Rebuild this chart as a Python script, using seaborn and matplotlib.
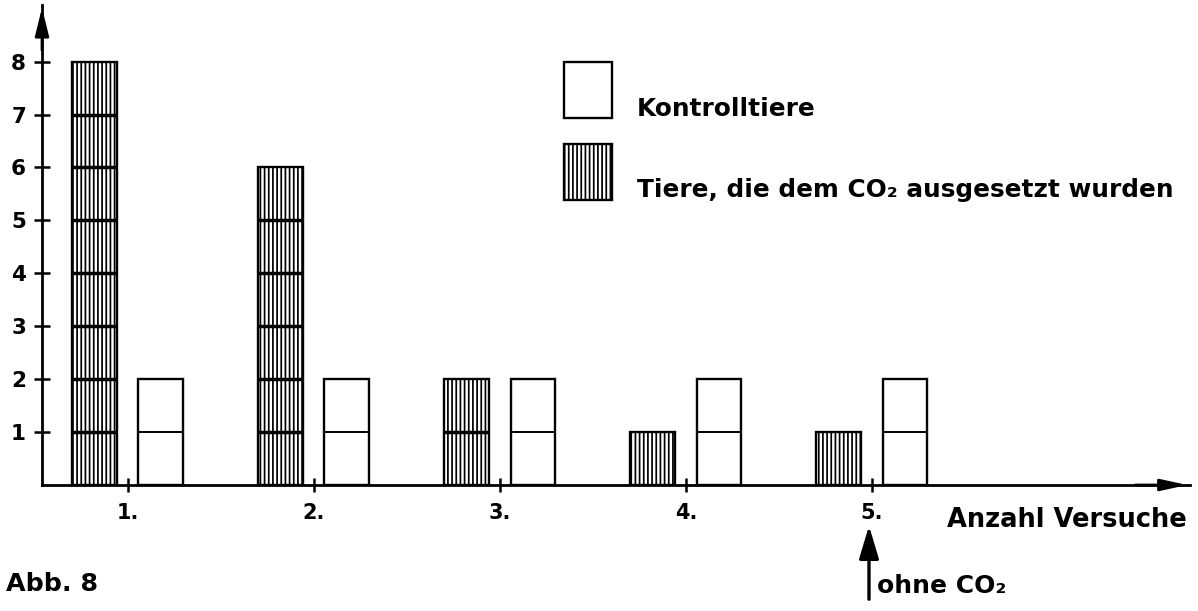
import matplotlib
matplotlib.use("Agg")
import matplotlib.pyplot as plt
from matplotlib.patches import Rectangle, FancyArrowPatch
import seaborn as sns
import pandas as pd

# ---- data ----
trials = ["1.", "2.", "3.", "4.", "5."]
co2_counts = [8, 6, 2, 1, 1]
control_counts = [2, 2, 2, 2, 2]
y_ticks = [1, 2, 3, 4, 5, 6, 7, 8]
lab_co2 = "Tiere, die dem CO\u2082 ausgesetzt wurden"
lab_ctrl = "Kontrolltiere"

df = pd.DataFrame({
    "trial": trials * 2,
    "count": co2_counts + control_counts,
    "group": [lab_co2] * len(trials) + [lab_ctrl] * len(trials),
})

sns.set_style("white")
FONT = ["DejaVu Sans"]
plt.rcParams["font.family"] = FONT
plt.rcParams["font.weight"] = "bold"
plt.rcParams["text.color"] = "black"
plt.rcParams["xtick.color"] = "black"
plt.rcParams["ytick.color"] = "black"
plt.rcParams["axes.labelcolor"] = "black"
plt.rcParams["hatch.linewidth"] = 1.25

HATCH = "||||"
W, H = 1198, 611
fig = plt.figure(figsize=(W / 100, H / 100), dpi=100)
ax = fig.add_axes([42 / W, 1 - 485 / H, (1190 - 42) / W, (485 - 5) / H])

sns.barplot(data=df, x="trial", y="count", hue="group", order=trials,
            hue_order=[lab_co2, lab_ctrl],
            palette={lab_co2: "white", lab_ctrl: "white"},
            width=0.71, gap=0.32, edgecolor="black", linewidth=1.7,
            legend=False, ax=ax)

# hatch CO2 bars & draw unit dividers
for ci, cont in enumerate(ax.containers):
    for bar in cont:
        if ci == 0:
            bar.set_hatch(HATCH)
        x0 = bar.get_x()
        x1 = x0 + bar.get_width()
        h = int(round(bar.get_height()))
        for k in range(1, h):
            ax.hlines(k, x0, x1, colors="black",
                      lw=2.5 if ci == 0 else 1.4, zorder=5)

ax.set_xlim(-0.462, 5.71)
ax.set_ylim(0, 9.07)
ax.set_yticks(y_ticks)
ax.set_yticklabels([str(v) for v in y_ticks])
ax.set_xlabel("")
ax.set_ylabel("")

for s in ["top", "right"]:
    ax.spines[s].set_visible(False)
for s in ["left", "bottom"]:
    ax.spines[s].set_linewidth(2.0)
    ax.spines[s].set_color("black")

ax.tick_params(axis="y", direction="inout", length=11, width=1.8,
               labelsize=15.5, pad=6, left=True)
ax.tick_params(axis="x", direction="inout", length=10, width=1.8,
               labelsize=15, pad=8, bottom=True)
for t in ax.get_xticklabels() + ax.get_yticklabels():
    t.set_fontweight("bold")

# axis arrows
ax.annotate("", xy=(0, 1), xytext=(0, 0.9), xycoords="axes fraction",
            arrowprops=dict(arrowstyle="-|>,head_length=1.7,head_width=0.42",
                            color="black", lw=2.0, mutation_scale=10),
            annotation_clip=False)
ax.annotate("", xy=(1, 0), xytext=(0.95, 0), xycoords="axes fraction",
            arrowprops=dict(arrowstyle="-|>,head_length=1.6,head_width=0.35",
                            color="black", lw=2.0, mutation_scale=10),
            annotation_clip=False)

# axis title
fig.text(1187 / W, 1 - 520 / H, "Anzahl Versuche", ha="right", va="center",
         fontsize=18.5, fontweight="bold")

# legend (manual)
for (y0, y1, hatch, lab, base) in [(62, 118, None, lab_ctrl, 116),
                                   (144, 200, HATCH, lab_co2, 197)]:
    r = Rectangle((564 / W, 1 - y1 / H), (612 - 564) / W, (y1 - y0) / H,
                  transform=fig.transFigure, facecolor="white",
                  edgecolor="black", lw=1.7, hatch=hatch)
    fig.add_artist(r)
    fig.text(637 / W, 1 - base / H, lab, ha="left", va="baseline",
             fontsize=17.8, fontweight="bold")

# figure caption
fig.text(6 / W, 1 - 591 / H, "Abb. 8", ha="left", va="baseline",
         fontsize=18.3, fontweight="bold")

# arrow "ohne CO2"
fig.add_artist(FancyArrowPatch(
    (869 / W, 1 - 602 / H), (869 / W, 1 - 523 / H),
    transform=fig.transFigure, arrowstyle="-|>,head_length=2.0,head_width=0.6",
    mutation_scale=10, color="black", lw=2.4))
fig.text(877 / W, 1 - 593 / H, "ohne CO\u2082", ha="left", va="baseline",
         fontsize=18, fontweight="bold")

fig.savefig("out.png", dpi=100, facecolor="white")
